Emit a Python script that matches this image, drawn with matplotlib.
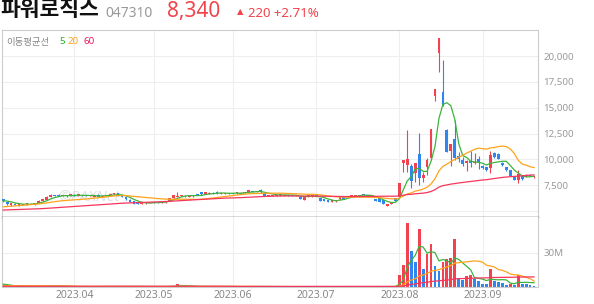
import numpy as np
import pandas as pd
import matplotlib
matplotlib.use('Agg')
import matplotlib.pyplot as plt

plt.rcParams['font.family'] = ['Noto Sans', 'Noto Sans CJK KR', 'DejaVu Sans']

# ---- header text ----
NAME = '파워로직스'
CODE = '047310'
LAST = '8,340'
ARROW = '▲'
CHANGE = '220 +2.71%'
MA_LABEL = '이동평균선'
MA_WINDOWS = [5, 20, 60]

# ---- trading days (KRX holidays and one halted day removed) ----
closed_days = ['2023-05-01', '2023-05-05', '2023-05-29', '2023-06-06',
               '2023-08-15', '2023-08-18']
dates = pd.bdate_range('2023-03-08', '2023-09-20')
dates = dates[~dates.isin(pd.to_datetime(closed_days))]

# ---- daily prices (KRW) ----
opens = [
    6120, 5830, 5540, 5700, 5540, 5650, 5600, 5700, 5640, 5800,
    5950, 6060, 6320, 6540, 6560, 6440, 6520, 6440, 6560, 6480,
    6540, 6500, 6420, 6380, 6580, 6360, 6450, 6540, 6600, 6700,
    6480, 6300, 6090, 5920, 5830, 5700, 5720, 5750, 5780, 5860,
    5780, 5830, 5960, 6220, 6380, 6430, 6480, 6350, 6400, 6640,
    6800, 6650, 6650, 6770, 6870, 6640, 6650, 6760, 6760, 6700,
    6770, 6760, 6830, 6930, 6850, 7030, 6700, 6440, 6440, 6440,
    6500, 6440, 6540, 6500, 6450, 6380, 6060, 6380, 6400, 6540,
    6220, 6150, 6060, 5900, 5920, 6120, 6300, 6380, 6400, 6470,
    6470, 6640, 6560, 6480, 6180, 6220, 6060, 5480, 5670, 6220,
    6380, 9670, 9450, 9350, 8640, 10510, 8220, 9225, 10100, 16160,
    20270, 16550, 12840, 10800, 11940, 10320, 9930, 9610, 9865, 9610,
    10060, 9350, 9225, 9130, 10640, 10510, 9610, 9225, 8960, 8310,
    7990, 8380, 8380, 8500, 8240,
]
highs = [
    6180, 5880, 5780, 5720, 5720, 5700, 5750, 5740, 5800, 6020,
    6150, 6420, 6600, 6580, 6600, 6560, 6560, 6640, 6600, 6650,
    6580, 6520, 6560, 6500, 6660, 6500, 6580, 6660, 6740, 6720,
    6500, 6320, 6110, 5940, 5850, 5800, 5820, 5850, 5880, 5880,
    5880, 5970, 6280, 6560, 6860, 6560, 6500, 6490, 6520, 6660,
    6820, 6850, 6790, 6790, 6960, 6750, 6770, 6780, 6780, 6820,
    6790, 6880, 7050, 6950, 6950, 7120, 6720, 6560, 6560, 6560,
    6630, 6560, 6560, 6520, 6550, 6400, 6340, 6560, 6560, 6560,
    6240, 6170, 6080, 6040, 6070, 6400, 6320, 6490, 6520, 6580,
    6580, 6660, 6580, 6500, 6200, 6240, 6080, 5690, 5910, 6240,
    7700, 9980, 12830, 9545, 9640, 12550, 8800, 10100, 12900, 16770,
    21800, 19620, 12900, 11500, 13810, 10700, 10220, 9930, 10800, 10640,
    10320, 9450, 9300, 10830, 10750, 10600, 9700, 9300, 9000, 8400,
    9000, 8450, 8550, 8600, 8420,
]
lows = [
    5900, 5620, 5520, 5540, 5520, 5580, 5590, 5630, 5620, 5780,
    5940, 6040, 6300, 6420, 6420, 6420, 6380, 6420, 6440, 6460,
    6420, 6400, 6400, 6360, 6300, 6340, 6430, 6520, 6580, 6460,
    6360, 6100, 5870, 5680, 5680, 5680, 5700, 5730, 5760, 5740,
    5760, 5810, 5940, 6200, 6360, 6410, 6380, 6330, 6380, 6500,
    6580, 6630, 6630, 6660, 6680, 6620, 6630, 6660, 6660, 6680,
    6640, 6740, 6810, 6810, 6830, 6780, 6420, 6420, 6420, 6420,
    6480, 6420, 6460, 6420, 6430, 6160, 6040, 6360, 6380, 6420,
    5970, 5940, 5840, 5880, 5900, 6100, 6180, 6360, 6380, 6450,
    6450, 6520, 6440, 6360, 5940, 5870, 5650, 5450, 5650, 5970,
    6300, 8800, 8800, 7220, 7830, 7480, 7830, 8480, 9900, 15680,
    18490, 15200, 10700, 9350, 9930, 9740, 9350, 8900, 9225, 9500,
    9030, 9050, 8900, 8700, 10100, 10000, 9350, 8900, 8350, 7950,
    7730, 8000, 8300, 8350, 8150,
]
closes = [
    5930, 5640, 5740, 5560, 5700, 5600, 5720, 5650, 5780, 5990,
    6120, 6380, 6540, 6440, 6440, 6540, 6400, 6610, 6460, 6610,
    6440, 6420, 6540, 6480, 6320, 6480, 6560, 6640, 6700, 6480,
    6380, 6120, 5890, 5700, 5700, 5780, 5800, 5830, 5860, 5760,
    5860, 5950, 6250, 6540, 6480, 6540, 6400, 6470, 6500, 6520,
    6600, 6830, 6770, 6680, 6700, 6730, 6750, 6680, 6680, 6800,
    6660, 6860, 7030, 6830, 6930, 6800, 6440, 6540, 6540, 6540,
    6610, 6540, 6480, 6440, 6530, 6180, 6320, 6540, 6540, 6440,
    5990, 5960, 5860, 6020, 6050, 6380, 6200, 6470, 6500, 6560,
    6560, 6540, 6460, 6380, 5960, 5890, 5670, 5670, 5890, 5990,
    7680, 9980, 10000, 7925, 9610, 8160, 8480, 9930, 12900, 16770,
    21750, 15260, 10740, 11450, 10100, 10000, 9515, 9835, 9610, 9770,
    9770, 9130, 8960, 10420, 10190, 10060, 9420, 8960, 8410, 7990,
    8575, 8060, 8510, 8380, 8340,
]
# closes before the visible window, only used for the moving averages
pre_close = [
    4880, 4910, 4950, 4920, 4900, 4870, 4890, 4930, 4960, 4990,
    4970, 4940, 4920, 4900, 4880, 4860, 4890, 4920, 4950, 4980,
    5000, 4970, 4950, 4930, 4910, 4900, 4920, 4940, 4960, 4980,
    4990, 4970, 4950, 4930, 4920, 4940, 4960, 4950, 4930, 4960,
    4990, 5020, 5050, 5080, 5060, 5100, 5130, 5160, 5150, 5200,
    5250, 5300, 5380, 5470, 5600, 5850, 6100, 6050, 6020,
]

# ---- daily volume (millions of shares) ----
volume = [
    0.9, 0.7, 0.5, 0.4, 0.5, 0.3, 0.4, 0.3, 0.4, 0.6,
    0.7, 1.2, 1.0, 0.6, 0.5, 0.4, 0.4, 0.5, 0.4, 0.4,
    0.3, 0.3, 0.4, 0.3, 0.5, 0.4, 0.4, 0.5, 0.6, 0.4,
    0.3, 0.5, 0.6, 0.5, 0.3, 0.3, 0.3, 0.3, 0.3, 0.3,
    0.3, 0.4, 0.9, 1.0, 2.3, 0.8, 0.5, 0.4, 0.4, 0.4,
    0.5, 0.6, 0.4, 0.3, 0.5, 0.4, 0.3, 0.3, 0.3, 0.3,
    0.3, 0.4, 0.7, 0.4, 0.4, 0.5, 0.5, 0.3, 0.3, 0.2,
    0.3, 0.2, 0.2, 0.2, 0.2, 0.4, 0.4, 0.4, 0.3, 0.2,
    0.4, 0.3, 0.3, 0.2, 0.2, 0.5, 0.3, 0.3, 0.2, 0.2,
    0.2, 0.3, 0.2, 0.2, 0.4, 0.4, 0.5, 0.3, 0.4, 0.4,
    10.2, 18.9, 55.8, 31.1, 21.8, 50.3, 15.4, 28.8, 37.5, 18.0,
    14.0, 21.5, 24.2, 25.3, 41.6, 7.3, 6.4, 9.3, 10.2, 6.7,
    5.2, 3.0, 2.8, 16.0, 5.2, 4.4, 3.6, 1.7, 2.3, 2.0,
    10.8, 3.0, 2.3, 1.5, 1.0,
]
pre_volume = [
    0.3, 0.3, 0.2, 0.3, 0.4, 0.3, 0.3, 0.2, 0.3, 0.3,
    0.4, 0.3, 0.3, 0.2, 0.3, 0.3, 0.3, 0.4, 0.3, 0.3,
    0.2, 0.3, 0.3, 0.3, 0.4, 0.3, 0.3, 0.2, 0.3, 0.3,
    0.3, 0.4, 0.3, 0.3, 0.2, 0.3, 0.3, 0.3, 0.4, 0.3,
    0.6, 0.7, 0.8, 0.7, 0.6, 0.8, 0.9, 0.8, 0.7, 0.8,
    0.9, 1.0, 0.8, 0.9, 0.8, 2.4, 3.2, 2.9, 2.7,
]

assert len(dates) == len(opens) == len(highs) == len(lows) == len(closes) == len(volume)

UP = '#f2424f'
DOWN = '#2f86ef'
MA_COLORS = ['#3cb43c', '#ffa31a', '#f5365c']
GRID = '#eeeeee'
W, H = 594, 304

o = np.array(opens, float)
h = np.array(highs, float)
l = np.array(lows, float)
c = np.array(closes, float)
v = np.array(volume) * 1e6
x = np.arange(len(c))


def moving_avg(pre, vals, n):
    s = pd.Series(list(pre) + list(vals), dtype=float)
    return s.rolling(n).mean().to_numpy()[len(pre):]


fig = plt.figure(figsize=(W / 100, H / 100), dpi=100)
ax = fig.add_axes([2 / W, 87 / H, 536 / W, 187 / H])
axv = fig.add_axes([2 / W, 17 / H, 536 / W, 70 / H], sharex=ax)

# candles
col = np.where(c >= o, UP, DOWN)
ax.vlines(x, l, h, color=col, linewidth=0.8, zorder=2)
body = np.maximum(np.abs(c - o), 40)
ax.bar(x, body, bottom=np.minimum(o, c), width=0.7, color=col, linewidth=0, zorder=3)

for n, mc in zip(MA_WINDOWS, MA_COLORS):
    ax.plot(x, moving_avg(pre_close, c, n), color=mc, linewidth=0.9, zorder=4)

# volume, red when volume rose from the day before
prev_v = np.concatenate([[pre_volume[-1] * 1e6], v[:-1]])
vcol = np.where(v >= prev_v, UP, DOWN)
axv.bar(x, v, width=0.7, color=vcol, linewidth=0, zorder=2)
for n, mc in zip(MA_WINDOWS, MA_COLORS):
    axv.plot(x, moving_avg(np.array(pre_volume) * 1e6, v, n), color=mc, linewidth=0.9, zorder=3)

# month ticks at the first trading day of each month
month_idx = [i for i in range(1, len(dates)) if dates[i].month != dates[i - 1].month]
month_lbl = [dates[i].strftime('%Y.%m') for i in month_idx]

ax.set_xlim(-0.3, len(c))
ax.set_ylim(4410, 22530)
yt = [5000, 7500, 10000, 12500, 15000, 17500, 20000]
ax.set_yticks(yt)
ax.set_yticklabels([''] + [f'{t:,}' for t in yt[1:]])
ax.yaxis.tick_right()
ax.tick_params(axis='y', length=0, pad=4, labelsize=7, labelcolor='#999999')
ax.tick_params(axis='x', length=0, labelbottom=False)
ax.set_xticks(month_idx)
ax.grid(True, color=GRID, linewidth=0.8, zorder=0)
ax.set_axisbelow(True)
for s in ['top', 'left', 'right']:
    ax.spines[s].set_color('#cccccc')
    ax.spines[s].set_linewidth(0.8)
ax.spines['bottom'].set_color('#444444')
ax.spines['bottom'].set_linewidth(1.0)

axv.set_ylim(0, 61e6)
axv.set_yticks([30e6])
axv.set_yticklabels(['30M'])
axv.yaxis.tick_right()
axv.set_xticks(month_idx)
axv.set_xticklabels(month_lbl)
axv.tick_params(axis='y', length=0, pad=4, labelsize=7, labelcolor='#999999')
axv.tick_params(axis='x', length=0, pad=2, labelsize=7.5, labelcolor='#888888')
axv.grid(True, color=GRID, linewidth=0.8, zorder=0)
axv.set_axisbelow(True)
axv.spines['top'].set_visible(False)
for s in ['left', 'right', 'bottom']:
    axv.spines[s].set_color('#cccccc')
    axv.spines[s].set_linewidth(0.8)

# watermark
ax.text(14, 5900, '©PAXNet', color='#bbbbbb', alpha=0.45, fontsize=11,
        fontweight='bold', style='italic', zorder=1)


def px(xp, yp):
    return xp / W, 1 - yp / H


fig.text(*px(0, 16.5), NAME, fontsize=15.5, fontweight='bold', color='#111111',
         family=['Noto Sans CJK KR'], va='baseline')
fig.text(*px(105, 16.7), CODE, fontsize=10, color='#999999', va='baseline')
fig.text(*px(167, 16.8), LAST, fontsize=15, color='#f0444c', va='baseline')
fig.text(*px(237, 14.5), ARROW, fontsize=6, color='#f0444c', va='baseline',
         family=['DejaVu Sans'])
fig.text(*px(248, 16.7), CHANGE, fontsize=9.5, color='#f0444c', va='baseline')
fig.text(*px(6, 44.5), MA_LABEL, fontsize=6.8, color='#888888',
         family=['Noto Sans CJK KR'], va='baseline')
for xp, n, mc in zip([59, 68, 83], MA_WINDOWS, ['#22b422', '#ffa31a', '#e8175d']):
    fig.text(*px(xp, 44.5), str(n), fontsize=7, color=mc, va='baseline')

fig.savefig('out.png', dpi=100)
